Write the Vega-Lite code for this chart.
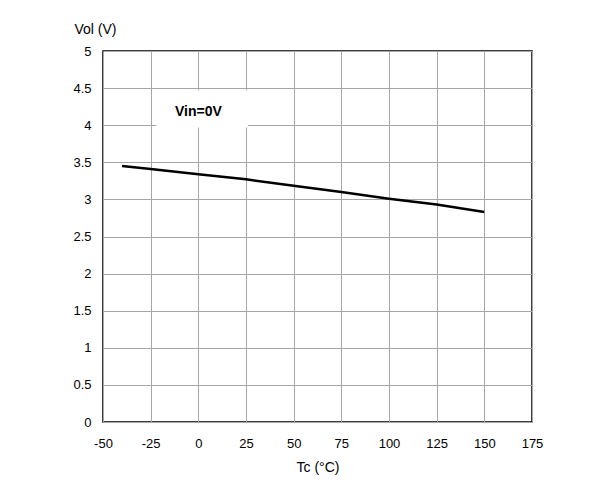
{
  "$schema": "https://vega.github.io/schema/vega-lite/v6.json",
  "width": 429,
  "height": 371,
  "autosize": {"type": "none"},
  "padding": {"left": 103, "top": 51, "right": 72, "bottom": 63},
  "background": "white",
  "config": {
    "font": "Liberation Sans",
    "view": {"stroke": "black", "strokeWidth": 1.5},
    "axis": {
      "grid": true,
      "gridColor": "#a6a6a6",
      "gridWidth": 1,
      "gridOpacity": 1,
      "domain": false,
      "ticks": false,
      "labelFont": "Liberation Sans",
      "labelFontSize": 13,
      "labelColor": "black",
      "titleFont": "Liberation Sans",
      "titleFontSize": 14,
      "titleFontWeight": "normal",
      "titleColor": "black"
    }
  },
  "datasets": {
    "curve": [
      {"tc": -40, "vol": 3.45},
      {"tc": -25, "vol": 3.41},
      {"tc": 0, "vol": 3.34},
      {"tc": 25, "vol": 3.27},
      {"tc": 50, "vol": 3.185},
      {"tc": 75, "vol": 3.10},
      {"tc": 100, "vol": 3.01},
      {"tc": 125, "vol": 2.93},
      {"tc": 150, "vol": 2.83}
    ],
    "box": [{"tc": -22, "tc2": 26, "vol": 3.97, "vol2": 4.47}],
    "label": [{"tc": 0, "vol": 4.18, "text": "Vin=0V"}]
  },
  "encoding": {
    "x": {"field": "tc", "type": "quantitative",
      "scale": {"domain": [-50, 175], "nice": false, "zero": false},
      "axis": {"values": [-50, -25, 0, 25, 50, 75, 100, 125, 150, 175], "labelExpr": "datum.value + ''", "title": "Tc (°C)", "labelPadding": 15, "titlePadding": 10, "labelFlush": false}},
    "y": {"field": "vol", "type": "quantitative",
      "scale": {"domain": [0, 5], "nice": false},
      "axis": {"values": [0, 0.5, 1, 1.5, 2, 2.5, 3, 3.5, 4, 4.5, 5], "labelExpr": "datum.value + ''", "title": "Vol (V)", "labelPadding": 12, "titleAngle": 0, "titleX": -8, "titleY": -22, "titleAlign": "center", "titleBaseline": "middle", "labelFlush": false}}
  },
  "layer": [
    {
      "data": {"name": "box"},
      "mark": {"type": "rect", "fill": "white", "stroke": null},
      "encoding": {
        "x2": {"field": "tc2"},
        "y2": {"field": "vol2"}
      }
    },
    {
      "data": {"name": "label"},
      "mark": {"type": "text", "font": "Liberation Sans", "fontWeight": "bold", "fontSize": 14, "color": "black", "align": "center", "baseline": "middle"},
      "encoding": {
        "text": {"field": "text"}
      }
    },
    {
      "data": {"name": "curve"},
      "mark": {"type": "line", "color": "black", "strokeWidth": 2.5},
      "encoding": {}
    }
  ]
}
